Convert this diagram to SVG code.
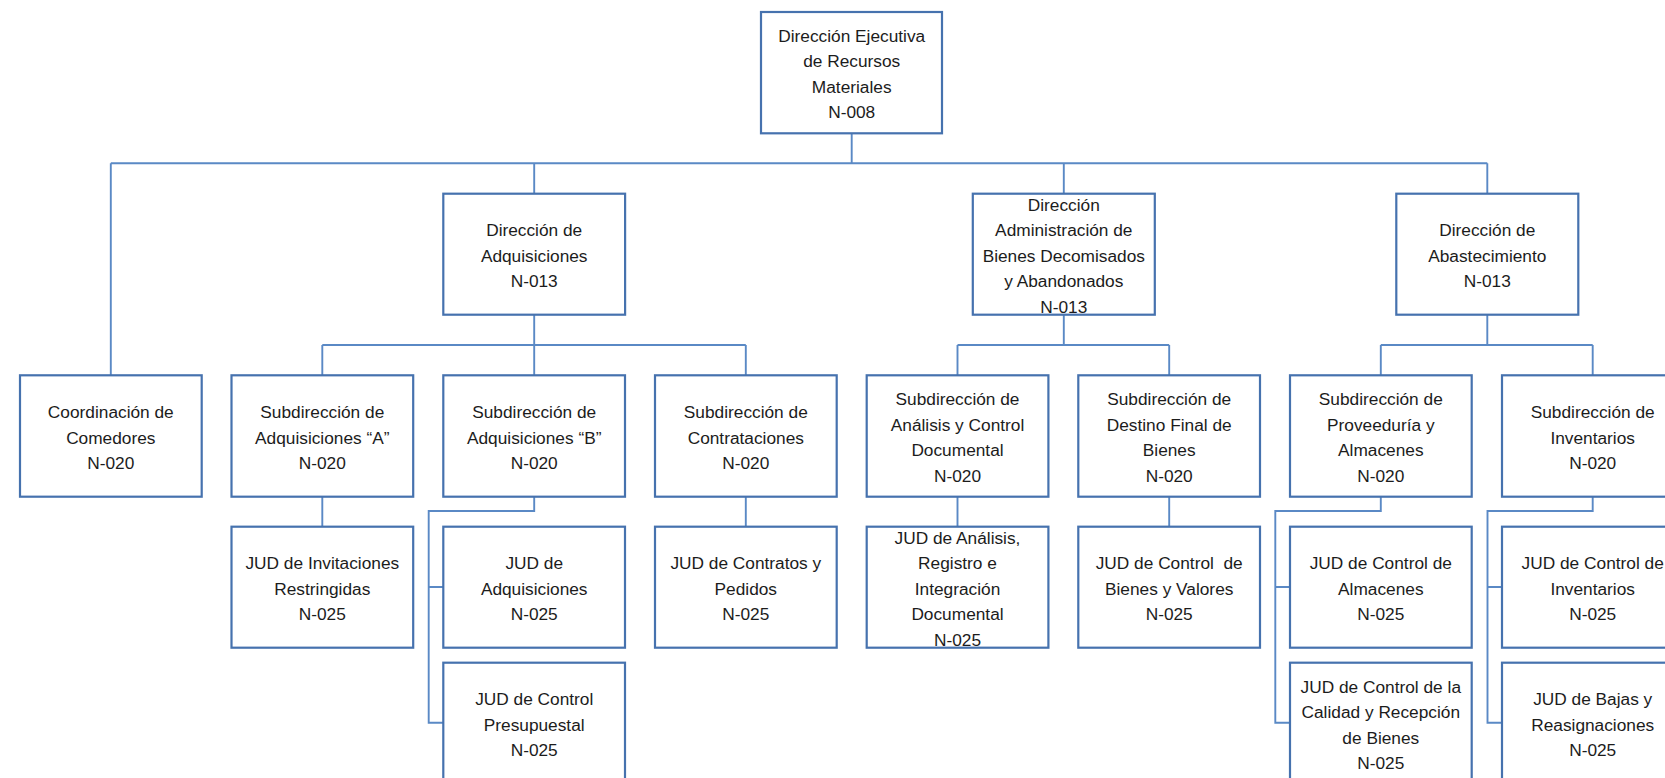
<svg xmlns="http://www.w3.org/2000/svg" width="1665" height="778" viewBox="0 0 1665 778">
<style>
.box{fill:#ffffff;stroke:#4672AE;stroke-width:2.2}
.conn{fill:none;stroke:#5A89C5;stroke-width:1.9}
text{font-family:"Liberation Sans",Arial,sans-serif;font-size:17.3px;fill:#1c1c1c;text-anchor:middle;white-space:pre}
</style>
<rect x="0" y="0" width="1665" height="778" fill="#ffffff"/>
<g id="connectors">
<path class="conn" d="M851.7 133.3V163.3M110.8 163.3H1487.3M110.8 163.3V375.3M534.2 163.3V193.7M1063.8 163.3V193.7M1487.3 163.3V193.7"/>
<path class="conn" d="M534.2 314.7V345M322.3 345H745.8M322.3 345V375.3M534.2 345V375.3M745.8 345V375.3"/>
<path class="conn" d="M1063.8 314.7V345M957.5 345H1169.2M957.5 345V375.3M1169.2 345V375.3"/>
<path class="conn" d="M1487.3 314.7V345M1380.8 345H1592.7M1380.8 345V375.3M1592.7 345V375.3"/>
<path class="conn" d="M322.3 496.7V526.7M745.8 496.7V526.7M957.5 496.7V526.7M1169.2 496.7V526.7"/>
<path class="conn" d="M534.2 496.7V511H428.7V722.7H443.3M428.7 587H443.3"/>
<path class="conn" d="M1380.8 496.7V511H1275.3V722.7H1290M1275.3 587H1290"/>
<path class="conn" d="M1592.7 496.7V511H1487.5V722.7H1502M1487.5 587H1502"/>
</g>
<g id="n-direccion-ejecutiva">
<rect class="box" x="761" y="12" width="181" height="121.3"/>
<text x="851.7" y="41.7">Dirección Ejecutiva</text>
<text x="851.7" y="67.2">de Recursos</text>
<text x="851.7" y="92.7">Materiales</text>
<text x="851.7" y="118.2">N-008</text>
</g>
<g id="n-dir-adquisiciones">
<rect class="box" x="443.3" y="193.7" width="181.8" height="121"/>
<text x="534.2" y="236.2">Dirección de</text>
<text x="534.2" y="261.7">Adquisiciones</text>
<text x="534.2" y="287.2">N-013</text>
</g>
<g id="n-dir-admin-bienes">
<rect class="box" x="972.8" y="193.7" width="182" height="121"/>
<text x="1063.8" y="210.7">Dirección</text>
<text x="1063.8" y="236.2">Administración de</text>
<text x="1063.8" y="261.7">Bienes Decomisados</text>
<text x="1063.8" y="287.2">y Abandonados</text>
<text x="1063.8" y="312.7">N-013</text>
</g>
<g id="n-dir-abastecimiento">
<rect class="box" x="1396.3" y="193.7" width="182" height="121"/>
<text x="1487.3" y="236.2">Dirección de</text>
<text x="1487.3" y="261.7">Abastecimiento</text>
<text x="1487.3" y="287.2">N-013</text>
</g>
<g id="n-coord-comedores">
<rect class="box" x="20" y="375.3" width="181.7" height="121.4"/>
<text x="110.8" y="418">Coordinación de</text>
<text x="110.8" y="443.5">Comedores</text>
<text x="110.8" y="469">N-020</text>
</g>
<g id="n-sub-adq-a">
<rect class="box" x="231.5" y="375.3" width="181.7" height="121.4"/>
<text x="322.3" y="418">Subdirección de</text>
<text x="322.3" y="443.5">Adquisiciones “A”</text>
<text x="322.3" y="469">N-020</text>
</g>
<g id="n-sub-adq-b">
<rect class="box" x="443.3" y="375.3" width="181.7" height="121.4"/>
<text x="534.2" y="418">Subdirección de</text>
<text x="534.2" y="443.5">Adquisiciones “B”</text>
<text x="534.2" y="469">N-020</text>
</g>
<g id="n-sub-contrataciones">
<rect class="box" x="655" y="375.3" width="181.7" height="121.4"/>
<text x="745.8" y="418">Subdirección de</text>
<text x="745.8" y="443.5">Contrataciones</text>
<text x="745.8" y="469">N-020</text>
</g>
<g id="n-sub-analisis">
<rect class="box" x="866.7" y="375.3" width="181.7" height="121.4"/>
<text x="957.5" y="405.3">Subdirección de</text>
<text x="957.5" y="430.8">Análisis y Control</text>
<text x="957.5" y="456.3">Documental</text>
<text x="957.5" y="481.8">N-020</text>
</g>
<g id="n-sub-destino">
<rect class="box" x="1078.3" y="375.3" width="181.7" height="121.4"/>
<text x="1169.2" y="405.3">Subdirección de</text>
<text x="1169.2" y="430.8">Destino Final de</text>
<text x="1169.2" y="456.3">Bienes</text>
<text x="1169.2" y="481.8">N-020</text>
</g>
<g id="n-sub-proveeduria">
<rect class="box" x="1290" y="375.3" width="181.7" height="121.4"/>
<text x="1380.8" y="405.3">Subdirección de</text>
<text x="1380.8" y="430.8">Proveeduría y</text>
<text x="1380.8" y="456.3">Almacenes</text>
<text x="1380.8" y="481.8">N-020</text>
</g>
<g id="n-sub-inventarios">
<rect class="box" x="1502" y="375.3" width="181.7" height="121.4"/>
<text x="1592.7" y="418">Subdirección de</text>
<text x="1592.7" y="443.5">Inventarios</text>
<text x="1592.7" y="469">N-020</text>
</g>
<g id="n-jud-invitaciones">
<rect class="box" x="231.5" y="526.7" width="181.7" height="121"/>
<text x="322.3" y="569.3">JUD de Invitaciones</text>
<text x="322.3" y="594.8">Restringidas</text>
<text x="322.3" y="620.3">N-025</text>
</g>
<g id="n-jud-adquisiciones">
<rect class="box" x="443.3" y="526.7" width="181.7" height="121"/>
<text x="534.2" y="569.3">JUD de</text>
<text x="534.2" y="594.8">Adquisiciones</text>
<text x="534.2" y="620.3">N-025</text>
</g>
<g id="n-jud-presupuestal">
<rect class="box" x="443.3" y="662.7" width="181.7" height="121"/>
<text x="534.2" y="705.3">JUD de Control</text>
<text x="534.2" y="730.8">Presupuestal</text>
<text x="534.2" y="756.3">N-025</text>
</g>
<g id="n-jud-contratos">
<rect class="box" x="655" y="526.7" width="181.7" height="121"/>
<text x="745.8" y="569.3">JUD de Contratos y</text>
<text x="745.8" y="594.8">Pedidos</text>
<text x="745.8" y="620.3">N-025</text>
</g>
<g id="n-jud-analisis">
<rect class="box" x="866.7" y="526.7" width="181.7" height="121"/>
<text x="957.5" y="543.8">JUD de Análisis,</text>
<text x="957.5" y="569.3">Registro e</text>
<text x="957.5" y="594.8">Integración</text>
<text x="957.5" y="620.3">Documental</text>
<text x="957.5" y="645.8">N-025</text>
</g>
<g id="n-jud-bienes-valores">
<rect class="box" x="1078.3" y="526.7" width="181.7" height="121"/>
<text x="1169.2" y="569.3">JUD de Control  de</text>
<text x="1169.2" y="594.8">Bienes y Valores</text>
<text x="1169.2" y="620.3">N-025</text>
</g>
<g id="n-jud-almacenes">
<rect class="box" x="1290" y="526.7" width="181.7" height="121"/>
<text x="1380.8" y="569.3">JUD de Control de</text>
<text x="1380.8" y="594.8">Almacenes</text>
<text x="1380.8" y="620.3">N-025</text>
</g>
<g id="n-jud-calidad">
<rect class="box" x="1290" y="662.7" width="181.7" height="121"/>
<text x="1380.8" y="692.6">JUD de Control de la</text>
<text x="1380.8" y="718.1">Calidad y Recepción</text>
<text x="1380.8" y="743.6">de Bienes</text>
<text x="1380.8" y="769.1">N-025</text>
</g>
<g id="n-jud-control-inventarios">
<rect class="box" x="1502" y="526.7" width="181.7" height="121"/>
<text x="1592.7" y="569.3">JUD de Control de</text>
<text x="1592.7" y="594.8">Inventarios</text>
<text x="1592.7" y="620.3">N-025</text>
</g>
<g id="n-jud-bajas">
<rect class="box" x="1502" y="662.7" width="181.7" height="121"/>
<text x="1592.7" y="705.3">JUD de Bajas y</text>
<text x="1592.7" y="730.8">Reasignaciones</text>
<text x="1592.7" y="756.3">N-025</text>
</g>
</svg>
